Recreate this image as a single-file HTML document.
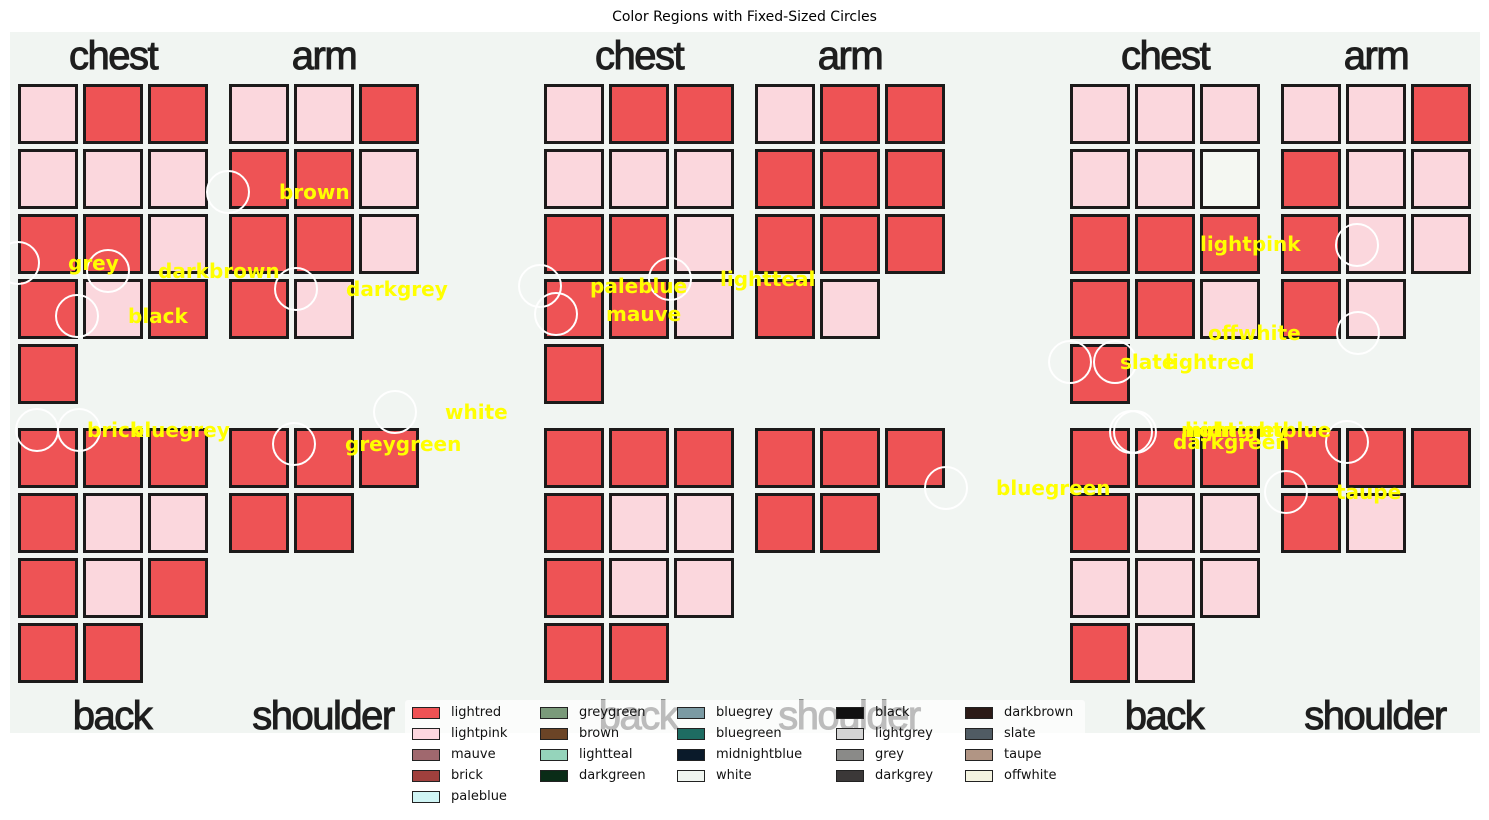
<!DOCTYPE html>
<html><head><meta charset="utf-8"><style>
body{margin:0;width:1489px;height:820px;background:#fff;position:relative;overflow:hidden;font-family:"DejaVu Sans","Liberation Sans",sans-serif}
.a{position:absolute}
#img{left:10px;top:32px;width:1470px;height:701px;background:#f1f5f2}
.sq{position:absolute;width:60px;height:60px;box-sizing:border-box;border:3px solid #1c1a1a}
.rl{position:absolute;font-family:"Liberation Sans",sans-serif;font-size:40px;color:#1e1e1e;transform:translateX(-50%);line-height:40px;letter-spacing:-1.5px;-webkit-text-stroke:1px #1e1e1e}
.c{position:absolute;width:40px;height:40px;border:2px solid #fff;border-radius:50%;margin:-22px 0 0 -22px}
.y{position:absolute;color:#ffff00;font-weight:bold;font-size:20px;line-height:20px;margin-top:-10px}
#leg{left:405px;top:700px;width:680px;height:108px;background:rgba(255,255,255,0.7);border-radius:3px}
.li{position:absolute;font-size:13px;line-height:14px;color:#111}
.li i{position:absolute;left:-39px;top:1px;width:26px;height:10px;border:1px solid #222}
</style></head><body>
<div class="a" style="left:0;width:1489px;top:9px;text-align:center;font-size:14px">Color Regions with Fixed-Sized Circles</div>
<div class="a" id="img"></div>
<div id="sqs"></div>
<div class="rl" style="left:113px;top:36px">chest</div><div class="rl" style="left:324px;top:36px">arm</div>
<div class="rl" style="left:112px;top:696px">back</div><div class="rl" style="left:323px;top:696px">shoulder</div>
<div class="rl" style="left:639px;top:36px">chest</div><div class="rl" style="left:850px;top:36px">arm</div>
<div class="rl" style="left:638px;top:696px">back</div><div class="rl" style="left:849px;top:696px">shoulder</div>
<div class="rl" style="left:1165px;top:36px">chest</div><div class="rl" style="left:1376px;top:36px">arm</div>
<div class="rl" style="left:1164px;top:696px">back</div><div class="rl" style="left:1375px;top:696px">shoulder</div>

<div class="c" style="left:228px;top:192px"></div><div class="c" style="left:18px;top:263px"></div><div class="c" style="left:108px;top:271px"></div><div class="c" style="left:77px;top:316px"></div><div class="c" style="left:296px;top:289px"></div><div class="c" style="left:395px;top:412px"></div><div class="c" style="left:37px;top:430px"></div><div class="c" style="left:79px;top:430px"></div><div class="c" style="left:294px;top:444px"></div>
<div class="c" style="left:540px;top:286px"></div><div class="c" style="left:556px;top:314px"></div><div class="c" style="left:670px;top:279px"></div><div class="c" style="left:946px;top:488px"></div>
<div class="c" style="left:1357px;top:245px"></div><div class="c" style="left:1358px;top:333px"></div><div class="c" style="left:1070px;top:362px"></div><div class="c" style="left:1115px;top:362px"></div><div class="c" style="left:1131px;top:432px"></div><div class="c" style="left:1135px;top:432px"></div><div class="c" style="left:1347px;top:442px"></div><div class="c" style="left:1286px;top:492px"></div>

<div class="y" style="left:279px;top:192px">brown</div><div class="y" style="left:68px;top:263px">grey</div><div class="y" style="left:158px;top:271px">darkbrown</div><div class="y" style="left:128px;top:316px">black</div><div class="y" style="left:346px;top:289px">darkgrey</div><div class="y" style="left:445px;top:412px">white</div><div class="y" style="left:87px;top:430px">brick</div><div class="y" style="left:130px;top:430px">bluegrey</div><div class="y" style="left:345px;top:444px">greygreen</div>
<div class="y" style="left:590px;top:286px">paleblue</div><div class="y" style="left:606px;top:314px">mauve</div><div class="y" style="left:720px;top:279px">lightteal</div><div class="y" style="left:996px;top:488px">bluegreen</div>
<div class="y" style="left:1200px;top:244px">lightpink</div><div class="y" style="left:1208px;top:333px">offwhite</div><div class="y" style="left:1120px;top:362px">slate</div><div class="y" style="left:1165px;top:362px">lightred</div><div class="y" style="left:1181px;top:430px">midnightblue</div><div class="y" style="left:1185px;top:430px">lightgrey</div><div class="y" style="left:1173px;top:442px">darkgreen</div><div class="y" style="left:1336px;top:492px">taupe</div>

<div class="a" id="leg"></div>
<div class="li" style="left:451px;top:706px"><i style="background:#ef5254"></i>lightred</div>
<div class="li" style="left:451px;top:727px"><i style="background:#fdd7df"></i>lightpink</div>
<div class="li" style="left:451px;top:748px"><i style="background:#a0686e"></i>mauve</div>
<div class="li" style="left:451px;top:769px"><i style="background:#a0403d"></i>brick</div>
<div class="li" style="left:451px;top:790px"><i style="background:#d0f5f5"></i>paleblue</div>
<div class="li" style="left:579px;top:706px"><i style="background:#7a9a7a"></i>greygreen</div>
<div class="li" style="left:579px;top:727px"><i style="background:#6b4426"></i>brown</div>
<div class="li" style="left:579px;top:748px"><i style="background:#95d4bb"></i>lightteal</div>
<div class="li" style="left:579px;top:769px"><i style="background:#0a2c17"></i>darkgreen</div>
<div class="li" style="left:716px;top:706px"><i style="background:#7b9aa3"></i>bluegrey</div>
<div class="li" style="left:716px;top:727px"><i style="background:#1e6c62"></i>bluegreen</div>
<div class="li" style="left:716px;top:748px"><i style="background:#0a1a2a"></i>midnightblue</div>
<div class="li" style="left:716px;top:769px"><i style="background:#f0f5f0"></i>white</div>
<div class="li" style="left:875px;top:706px"><i style="background:#111"></i>black</div>
<div class="li" style="left:875px;top:727px"><i style="background:#d4d4d4"></i>lightgrey</div>
<div class="li" style="left:875px;top:748px"><i style="background:#8a8a88"></i>grey</div>
<div class="li" style="left:875px;top:769px"><i style="background:#3b3838"></i>darkgrey</div>
<div class="li" style="left:1004px;top:706px"><i style="background:#2c1b17"></i>darkbrown</div>
<div class="li" style="left:1004px;top:727px"><i style="background:#505b63"></i>slate</div>
<div class="li" style="left:1004px;top:748px"><i style="background:#b19584"></i>taupe</div>
<div class="li" style="left:1004px;top:769px"><i style="background:#f4f3e0"></i>offwhite</div>
<script>
var P=[
{c:["LRR","LLL","RRL","RLR","R"],a:["LLR","RRL","RRL","RL"],b:["RRR","RLL","RLR","RR"],s:["RRR","RR"]},
{c:["LRR","LLL","RRL","RRL","R"],a:["LRR","RRR","RRR","RL"],b:["RRR","RLL","RLL","RR"],s:["RRR","RR"]},
{c:["LLL","LLW","RRR","RRL","R"],a:["LLR","RLL","RLL","RL"],b:["RRR","RLL","LLL","RL"],s:["RRR","RL"]}];
var col={R:"#ee5355",L:"#fbd7dd",W:"#f4f7f2"},h="";
function g(rows,x0,y0){rows.forEach(function(r,i){for(var j=0;j<r.length;j++){h+='<div class="sq" style="left:'+(x0+65*j)+'px;top:'+(y0+65*i)+'px;background:'+col[r[j]]+'"></div>';}});}
P.forEach(function(p,k){var o=k*526;g(p.c,18+o,84);g(p.a,229+o,84);g(p.b,18+o,428);g(p.s,229+o,428);});
document.getElementById("sqs").innerHTML=h;
</script>
</body></html>
